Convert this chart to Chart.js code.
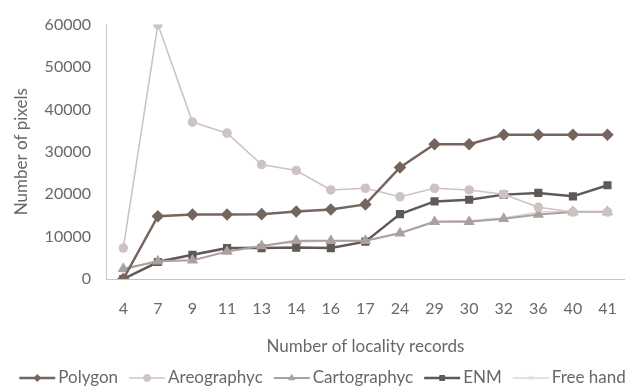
<!DOCTYPE html>
<html>
<head>
<meta charset="utf-8">
<script src="https://cdn.jsdelivr.net/npm/chart.js@4"></script>
<style>
  html, body { margin: 0; padding: 0; background: #fff; }
  #wrap { width: 637px; height: 392px; }
</style>
</head>
<body>
<div id="wrap"><canvas id="chart" width="637" height="392"></canvas></div>
<script>
const records = ["4", "7", "9", "11", "13", "14", "16", "17", "24", "29", "30", "32", "36", "40", "41"];
const polygon      = [0, 14800, 15200, 15200, 15300, 15900, 16400, 17600, 26300, 31800, 31800, 34000, 34000, 34000, 34000];
const areographyc  = [7300, 60000, 37000, 34400, 27000, 25600, 21000, 21400, 19400, 21400, 21000, 20000, 16900, 15800, 15800];
const cartographyc = [2400, 4200, 4400, 6500, 7800, 9000, 9000, 9000, 10800, 13500, 13500, 14200, 15200, 15800, 15800];
const enm          = [0, 4000, 5700, 7300, 7300, 7400, 7300, 8800, 15300, 18300, 18700, 19900, 20300, 19500, 22100];
const freeHand     = [2000, 4400, 5600, 7000, 7800, 8700, 8900, 9000, 11000, 13600, 13800, 14400, 15800, 16000, 16000];
const yTicks = [0, 10000, 20000, 30000, 40000, 50000, 60000];

const textColor = "#6b6767";
const fontName = "Lato";

// legend drawn as line + marker, like the original
const lineLegend = {
    id: "lineLegend",
    afterDraw(chart) {
        const ctx = chart.ctx;
        const y = 378;
        const lineLen = 36;
        ctx.save();
        ctx.font = "17px " + fontName;
        ctx.textBaseline = "middle";
        const items = chart.data.datasets;
        let total = 0;
        items.forEach((ds, i) => {
            total += lineLen + 3 + ctx.measureText(ds.label).width;
            if (i < items.length - 1) total += 11;
        });
        let x = (chart.width - total) / 2 + 4;
        items.forEach(ds => {
            ctx.strokeStyle = ds.borderColor;
            ctx.lineWidth = ds.borderWidth;
            ctx.beginPath();
            ctx.moveTo(x, y);
            ctx.lineTo(x + lineLen, y);
            ctx.stroke();
            ctx.fillStyle = ds.pointBackgroundColor;
            ctx.strokeStyle = ds.pointBorderColor;
            ctx.lineWidth = 1;
            Chart.helpers.drawPoint(ctx, {
                pointStyle: ds.pointStyle,
                radius: 3.5,
                borderWidth: 1
            }, x + lineLen / 2, y);
            x += lineLen + 3;
            ctx.fillStyle = textColor;
            ctx.fillText(ds.label, x, y);
            x += ctx.measureText(ds.label).width + 11;
        });
        ctx.restore();
    }
};

const makeSet = (label, data, color, width, style, radius) => ({
    label: label,
    data: data,
    borderColor: color,
    backgroundColor: color,
    pointBackgroundColor: color,
    pointBorderColor: color,
    borderWidth: width,
    pointStyle: style,
    pointRadius: radius,
    tension: 0
});

const ctx = document.getElementById("chart").getContext("2d");
new Chart(ctx, {
    type: "line",
    data: {
        labels: records,
        datasets: [
            makeSet("Polygon", polygon, "#76655f", 2.5, "rectRot", 4.5),
            makeSet("Areographyc", areographyc, "#cdc4c2", 1.6, "circle", 4),
            makeSet("Cartographyc", cartographyc, "#aaa19d", 2, "triangle", 4.5),
            makeSet("ENM", enm, "#5f5957", 2.5, "rect", 4),
            makeSet("Free hand", freeHand, "#ddd5d3", 1.5, "crossRot", 3)
        ]
    },
    options: {
        responsive: false,
        animation: false,
        layout: { padding: { top: 16, right: 4, bottom: 30, left: 0 } },
        plugins: {
            legend: { display: false },
            tooltip: { enabled: false }
        },
        scales: {
            x: {
                offset: true,
                grid: { display: false, drawTicks: false },
                border: { display: true, color: "#c9c4c2", width: 1, dash: [2, 2] },
                ticks: { color: textColor, font: { family: fontName, size: 16 }, padding: 20, maxRotation: 0, autoSkip: false },
                title: {
                    display: true,
                    text: "Number of locality records",
                    color: textColor,
                    font: { family: fontName, size: 17 },
                    padding: { top: 0, bottom: 5 }
                },
                afterFit: scale => { scale.height = 83; }
            },
            y: {
                min: 0,
                max: 60000,
                afterBuildTicks: scale => { scale.ticks = yTicks.map(v => ({ value: v })); },
                grid: { display: false, drawTicks: false },
                border: { display: true, color: "#c9c4c2", width: 1, dash: [2, 2] },
                ticks: {
                    color: textColor,
                    font: { family: fontName, size: 16 },
                    padding: 15,
                    callback: v => String(v)
                },
                title: {
                    display: true,
                    text: "Number of pixels",
                    color: textColor,
                    font: { family: fontName, size: 17 },
                    padding: { top: 11, bottom: 0 }
                },
                afterFit: scale => { scale.width = 106; }
            }
        }
    },
    plugins: [lineLegend]
});
</script>
</body>
</html>
